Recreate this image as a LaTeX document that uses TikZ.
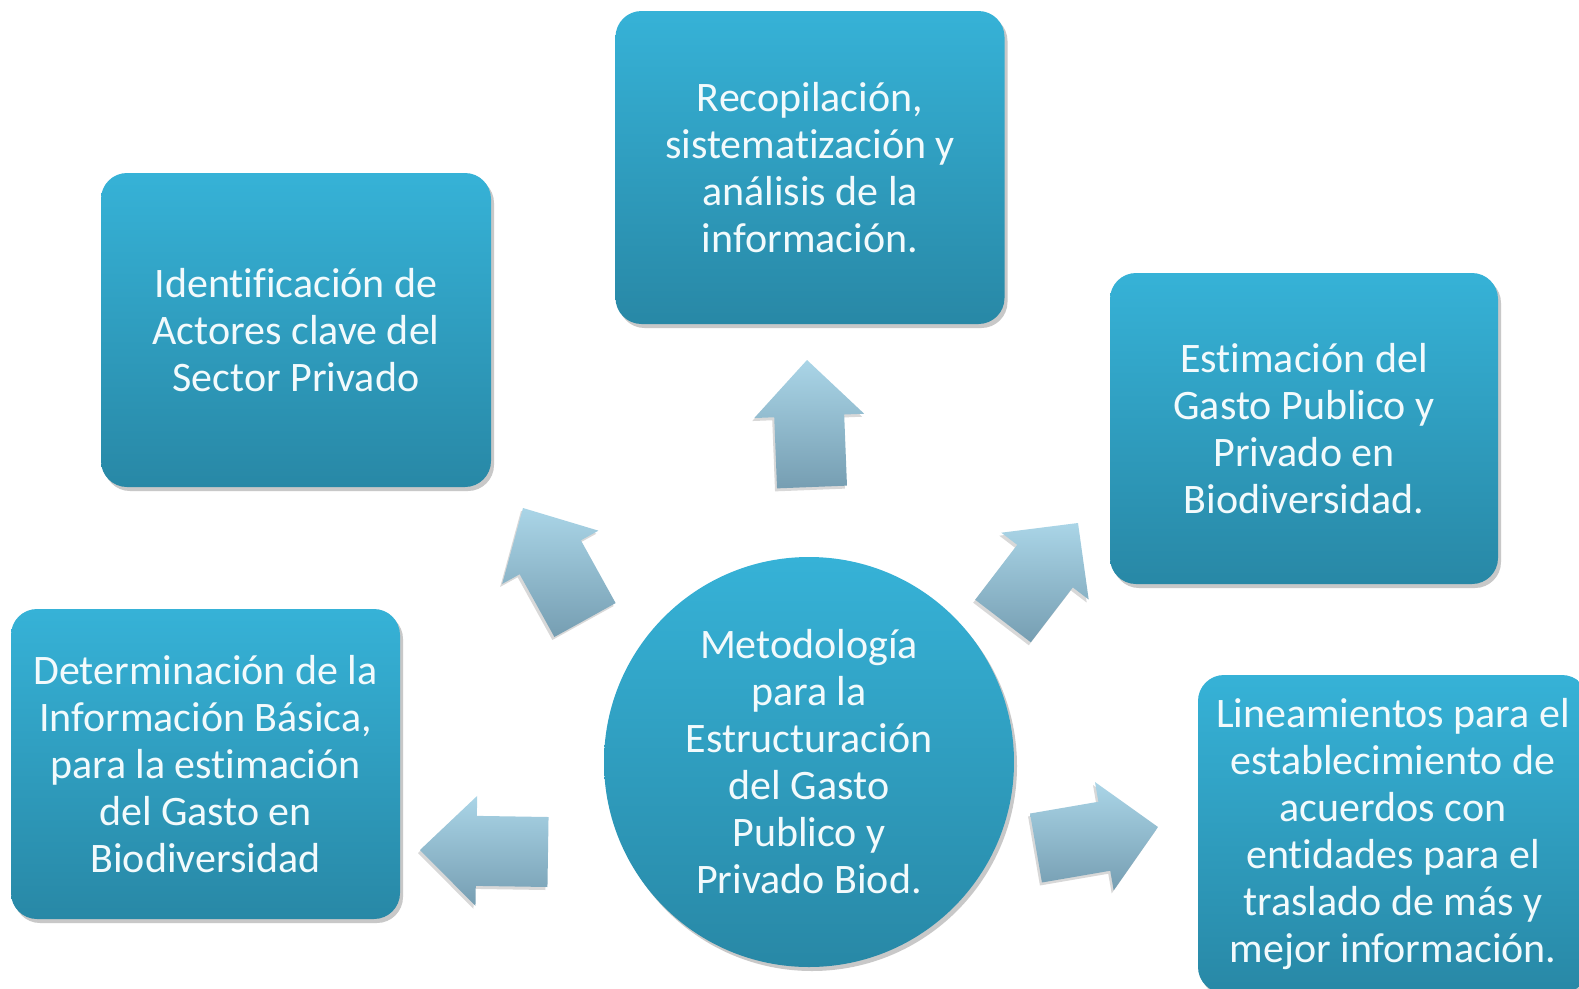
\documentclass[tikz,border=0pt]{standalone}
\usepackage{fontspec}
\setmainfont[Ligatures={NoCommon,NoRare,NoDiscretionary}]{Carlito}
\usetikzlibrary{calc,shadows}
\definecolor{boxtop}{RGB}{54,178,215}
\definecolor{boxbot}{RGB}{40,136,166}
\definecolor{arrtop}{RGB}{170,213,231}
\definecolor{arrbot}{RGB}{118,158,178}
\definecolor{txt}{RGB}{242,250,252}
\tikzset{
  stepbox/.style={rectangle, rounded corners=26pt, top color=boxtop, bottom color=boxbot,
    draw=none, align=center, text=txt, font=\fontsize{42}{47}\selectfont,
    drop shadow={shadow xshift=3pt, shadow yshift=-4pt, opacity=0.3, fill=black!70}},
  hub/.style={circle, top color=boxtop, bottom color=boxbot, draw=none, align=center,
    text=txt, font=\fontsize{42}{47}\selectfont, minimum size=410pt, inner sep=0pt,
    drop shadow={shadow xshift=3pt, shadow yshift=-4pt, opacity=0.3, fill=black!70}},
  blockarrow/.style={top color=arrtop, bottom color=arrbot, draw=none,
    drop shadow={shadow xshift=-2pt, shadow yshift=-3pt, opacity=0.25, fill=black!60}}
}
\newcommand\myblockarrow[3]{%
  \coordinate (#3-h) at ($(#1)!0.56!(#2)$);
  \path[blockarrow] ($(#1)!35pt!90:(#2)$) -- ($(#3-h)!35pt!90:(#2)$) -- ($(#3-h)!55pt!90:(#2)$)
    -- (#2) -- ($(#3-h)!55pt!-90:(#2)$) -- ($(#3-h)!35pt!-90:(#2)$) -- ($(#1)!35pt!-90:(#2)$) -- cycle;
}
\begin{document}
\begin{tikzpicture}[x=1pt,y=-1pt]
\useasboundingbox (0,0) rectangle (1579,988);
\clip (0,0) rectangle (1579,988);
\fill[white] (0,0) rectangle (1579,988);

\node[stepbox, minimum width=389pt, minimum height=313pt] (top) at (810,167.5)
  {Recopilación,\\sistematización y\\análisis de la\\información.};
\node[stepbox, minimum width=390pt, minimum height=314pt] (ul) at (296,330)
  {Identificación de\\Actores clave del\\Sector Privado};
\node[stepbox, minimum width=388pt, minimum height=311pt] (ur) at (1304,428.5)
  {Estimación del\\Gasto Publico y\\Privado en\\Biodiversidad.};
\node[stepbox, minimum width=389pt, minimum height=310pt] (ll) at (205.5,764)
  {Determinación de la\\Información Básica,\\para la estimación\\del Gasto en\\Biodiversidad};
\node[stepbox, minimum width=390pt, minimum height=318pt] (lr) at (1393,834)
  {Lineamientos para el\\establecimiento de\\acuerdos con\\entidades para el\\traslado de más y\\mejor información.};
\node[hub] (c) at (809,762)
  {Metodología\\para la\\Estructuración\\del Gasto\\Publico y\\Privado Biod.};

\coordinate (a1t) at (812,487); \coordinate (a1p) at (807,360);
\coordinate (a2t) at (585,620); \coordinate (a2p) at (523,508);
\coordinate (a3t) at (1003,621); \coordinate (a3p) at (1078,523);
\coordinate (a4t) at (548,852); \coordinate (a4p) at (420,850);
\coordinate (a5t) at (1036,848); \coordinate (a5p) at (1158,827);
\myblockarrow{a1t}{a1p}{a1}
\myblockarrow{a2t}{a2p}{a2}
\myblockarrow{a3t}{a3p}{a3}
\myblockarrow{a4t}{a4p}{a4}
\myblockarrow{a5t}{a5p}{a5}
\end{tikzpicture}
\end{document}
